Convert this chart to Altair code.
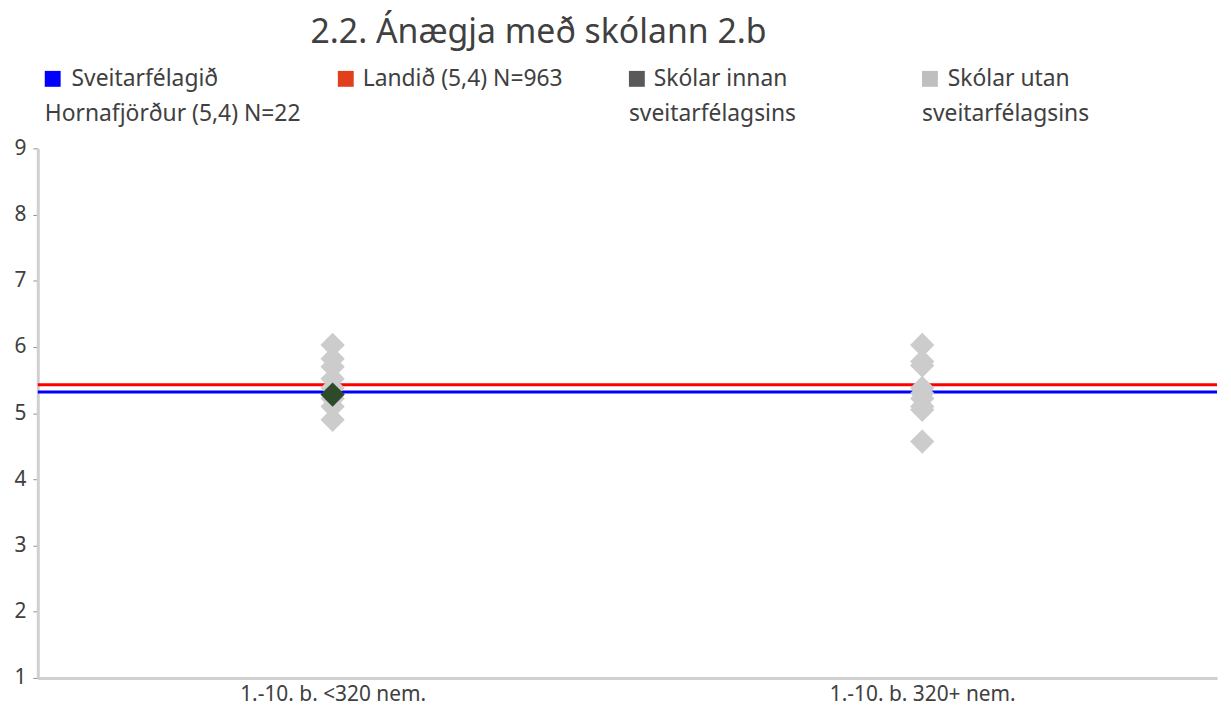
import altair as alt
import pandas as pd

categories = ["1.-10. b. <320 nem.", "1.-10. b. 320+ nem."]
outside_cat1 = [6.03, 5.82, 5.70, 5.52, 5.38, 5.22, 5.10, 4.90]
outside_cat2 = [6.03, 5.78, 5.72, 5.38, 5.30, 5.22, 5.10, 5.05, 4.57]
inside_cat1 = [5.28]
municipality_mean = 5.32
national_mean = 5.43
legend_lines = [
    ["Sveitarfélagið", "Hornafjörður (5,4) N=22"],
    ["Landið (5,4) N=963", ""],
    ["Skólar innan", "sveitarfélagsins"],
    ["Skólar utan", "sveitarfélagsins"],
]
legend_colors = ["#0000ff", "#e0401c", "#595959", "#bfbfbf"]
title_text = "2.2. Ánægja með skólann 2.b"

FONT = "Noto Sans"
W, H = 1187, 533

outside = pd.DataFrame({
    "cat": [categories[0]] * len(outside_cat1) + [categories[1]] * len(outside_cat2),
    "val": outside_cat1 + outside_cat2,
})
inside = pd.DataFrame({"cat": [categories[0]] * len(inside_cat1), "val": inside_cat1})
means = pd.DataFrame({"val": [national_mean, municipality_mean], "kind": ["land", "sveit"]})

yscale = alt.Scale(domain=[1, 9], nice=False, zero=False)
xscale = alt.Scale(domain=categories)

xaxis = alt.Axis(title=None, labelAngle=0, ticks=False, labelFontSize=21, labelColor="#404040",
                 labelFont=FONT, domainColor="#d0d0d0", domainWidth=3, labelPadding=6, labelLimit=0)
yaxis = alt.Axis(title=None, values=list(range(1, 10)), format="d", labelFontSize=21, labelColor="#404040",
                 labelFont=FONT, domainColor="#d0d0d0", domainWidth=3, tickColor="#909090",
                 tickSize=5, grid=False, labelPadding=7)

pts_out = alt.Chart(outside).mark_point(shape="diamond", filled=True, size=600, color="#cccccc", opacity=1).encode(
    x=alt.X("cat:N", scale=xscale, axis=xaxis, sort=categories),
    y=alt.Y("val:Q", scale=yscale, axis=yaxis),
)
pts_in = alt.Chart(inside).mark_point(shape="diamond", filled=True, size=600, color="#2d4a2b", opacity=1).encode(
    x=alt.X("cat:N", scale=xscale, sort=categories),
    y=alt.Y("val:Q", scale=yscale),
)
rules = alt.Chart(means).mark_rule(strokeWidth=3).encode(
    y=alt.Y("val:Q", scale=yscale),
    color=alt.Color("kind:N", scale=alt.Scale(domain=["land", "sveit"], range=["#ff0000", "#0000ff"]), legend=None),
)

one = pd.DataFrame({"a": [0]})
layers = [rules, pts_out, pts_in]

layers.append(alt.Chart(one).mark_text(text=title_text, fontSize=34, font=FONT, color="#404040",
                                       align="center", baseline="middle").encode(
    x=alt.value(504), y=alt.value(-116)))

sq_x = [15, 310, 603, 898]
tx_x = [34, 327, 620, 916]
for i, lines in enumerate(legend_lines):
    layers.append(alt.Chart(one).mark_square(size=256, color=legend_colors[i], opacity=1).encode(
        x=alt.value(sq_x[i]), y=alt.value(-70)))
    for j, line in enumerate(lines):
        if not line:
            continue
        lx = tx_x[i] if j == 0 else sq_x[i] - 8
        layers.append(alt.Chart(one).mark_text(text=line, fontSize=23, font=FONT, color="#404040",
                                               align="left", baseline="middle").encode(
            x=alt.value(lx), y=alt.value(-70 + 35 * j)))

chart = alt.layer(*layers).properties(
    width=W, height=H,
    autosize=alt.AutoSizeParams(type="none"),
    padding={"left": 30, "top": 139, "right": 6, "bottom": 30},
).configure_view(stroke=None)

chart.save("out.html", embed_options={"renderer": "svg", "actions": False})
